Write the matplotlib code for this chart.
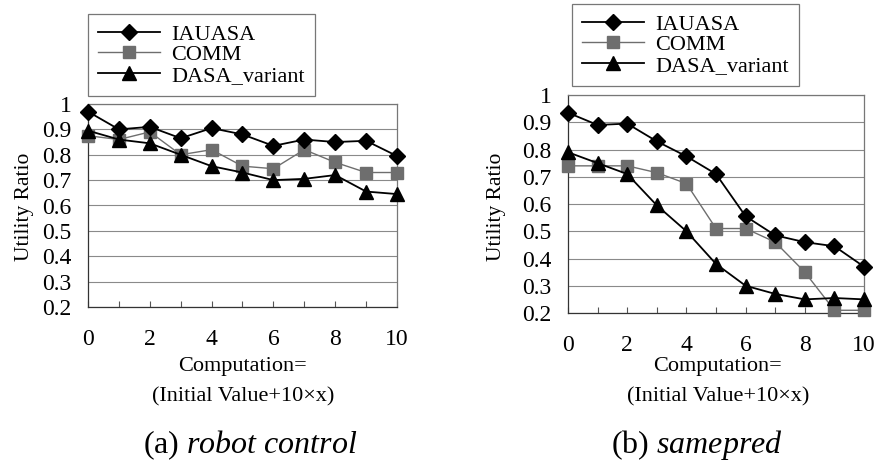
import matplotlib.pyplot as plt
import numpy as np

plt.rcParams['font.family'] = ['Liberation Serif', 'DejaVu Serif']
plt.rcParams['mathtext.fontset'] = 'custom'
plt.rcParams['mathtext.rm'] = 'Liberation Serif'
plt.rcParams['mathtext.it'] = 'Liberation Serif:italic'

x = list(range(11))

# (a) robot control
rc_iauasa = [0.97, 0.90, 0.91, 0.865, 0.905, 0.88, 0.835, 0.86, 0.85, 0.855, 0.795]
rc_comm = [0.875, 0.86, 0.89, 0.80, 0.82, 0.755, 0.745, 0.82, 0.77, 0.73, 0.73]
rc_dasa = [0.895, 0.86, 0.845, 0.80, 0.755, 0.73, 0.70, 0.705, 0.72, 0.655, 0.645]

# (b) samepred
sp_iauasa = [0.935, 0.89, 0.895, 0.83, 0.775, 0.71, 0.555, 0.485, 0.46, 0.445, 0.37]
sp_comm = [0.74, 0.74, 0.74, 0.715, 0.675, 0.51, 0.51, 0.46, 0.35, 0.21, 0.21]
sp_dasa = [0.79, 0.75, 0.71, 0.595, 0.50, 0.38, 0.30, 0.27, 0.25, 0.255, 0.25]

names = ['IAUASA', 'COMM', 'DASA_variant']
yticks = [0.2, 0.3, 0.4, 0.5, 0.6, 0.7, 0.8, 0.9, 1]
ylabels = ['0.2', '0.3', '0.4', '0.5', '0.6', '0.7', '0.8', '0.9', '1']

fig = plt.figure(figsize=(8.78, 4.61), dpi=100)

W, H = 878.0, 461.0
panels = [
    # left, right, top, bottom (px), data, legend box, ylabel x, xlabel center, caption
    (88, 397, 104, 307, (rc_iauasa, rc_comm, rc_dasa), (88, 14), 25, 243, r'(a) $\mathit{robot\ control}$', 250),
    (568, 864, 95, 313, (sp_iauasa, sp_comm, sp_dasa), (572, 4), 497, 718, r'(b) $\mathit{samepred}$', 697),
]

for l, r, t, b, data, leg, ylx, xlc, cap, capx in panels:
    ax = fig.add_axes([l / W, 1 - b / H, (r - l) / W, (b - t) / H])
    ia, co, da = data
    h1, = ax.plot(x, ia, color='black', lw=1.3, marker='D', ms=8, mfc='black', mec='black', clip_on=False, zorder=5)
    h2, = ax.plot(x, co, color='#6e6e6e', lw=1.0, marker='s', ms=8, mfc='#6e6e6e', mec='#6e6e6e', clip_on=False, zorder=4)
    h3, = ax.plot(x, da, color='black', lw=1.3, marker='^', ms=10, mfc='black', mec='black', clip_on=False, zorder=6)
    ax.set_xlim(0, 10)
    ax.set_ylim(0.2, 1)
    ax.set_yticks(yticks)
    ax.set_yticklabels(ylabels)
    ax.set_xticks(x)
    ax.set_xticklabels([str(v) if v % 2 == 0 else '' for v in x])
    ax.tick_params(axis='y', length=0, labelsize=17, pad=12)
    ax.tick_params(axis='x', direction='in', length=4, color='#555555', labelsize=17, pad=16)
    ax.grid(axis='y', color='#8a8a8a', lw=0.8)
    ax.set_axisbelow(True)
    for s in ax.spines.values():
        s.set_color('#777777')
        s.set_linewidth(0.9)
    ax.spines['left'].set_color('#333333')
    ax.spines['bottom'].set_color('#333333')

    fig.text(ylx / W, 1 - 207 / H, 'Utility Ratio', rotation=90, ha='center', va='center', fontsize=15.5)
    fig.text(xlc / W, 1 - 367 / H, 'Computation=', ha='center', va='center', fontsize=16)
    fig.text(xlc / W, 1 - 397 / H, '(Initial Value+10\u00d7x)', ha='center', va='center', fontsize=16)
    fig.text(capx / W, 1 - 445 / H, cap, ha='center', va='center', fontsize=23)

    lg = fig.legend([h1, h2, h3], names, loc='upper left',
                    bbox_to_anchor=(leg[0] / W, 1 - leg[1] / H), bbox_transform=fig.transFigure,
                    fontsize=16, frameon=True, fancybox=False, edgecolor='#555555',
                    handlelength=2.8, handletextpad=0.5, labelspacing=0.0,
                    borderpad=0.45, borderaxespad=0)
    lg.get_frame().set_linewidth(0.9)

fig.savefig('out.png', dpi=100)
